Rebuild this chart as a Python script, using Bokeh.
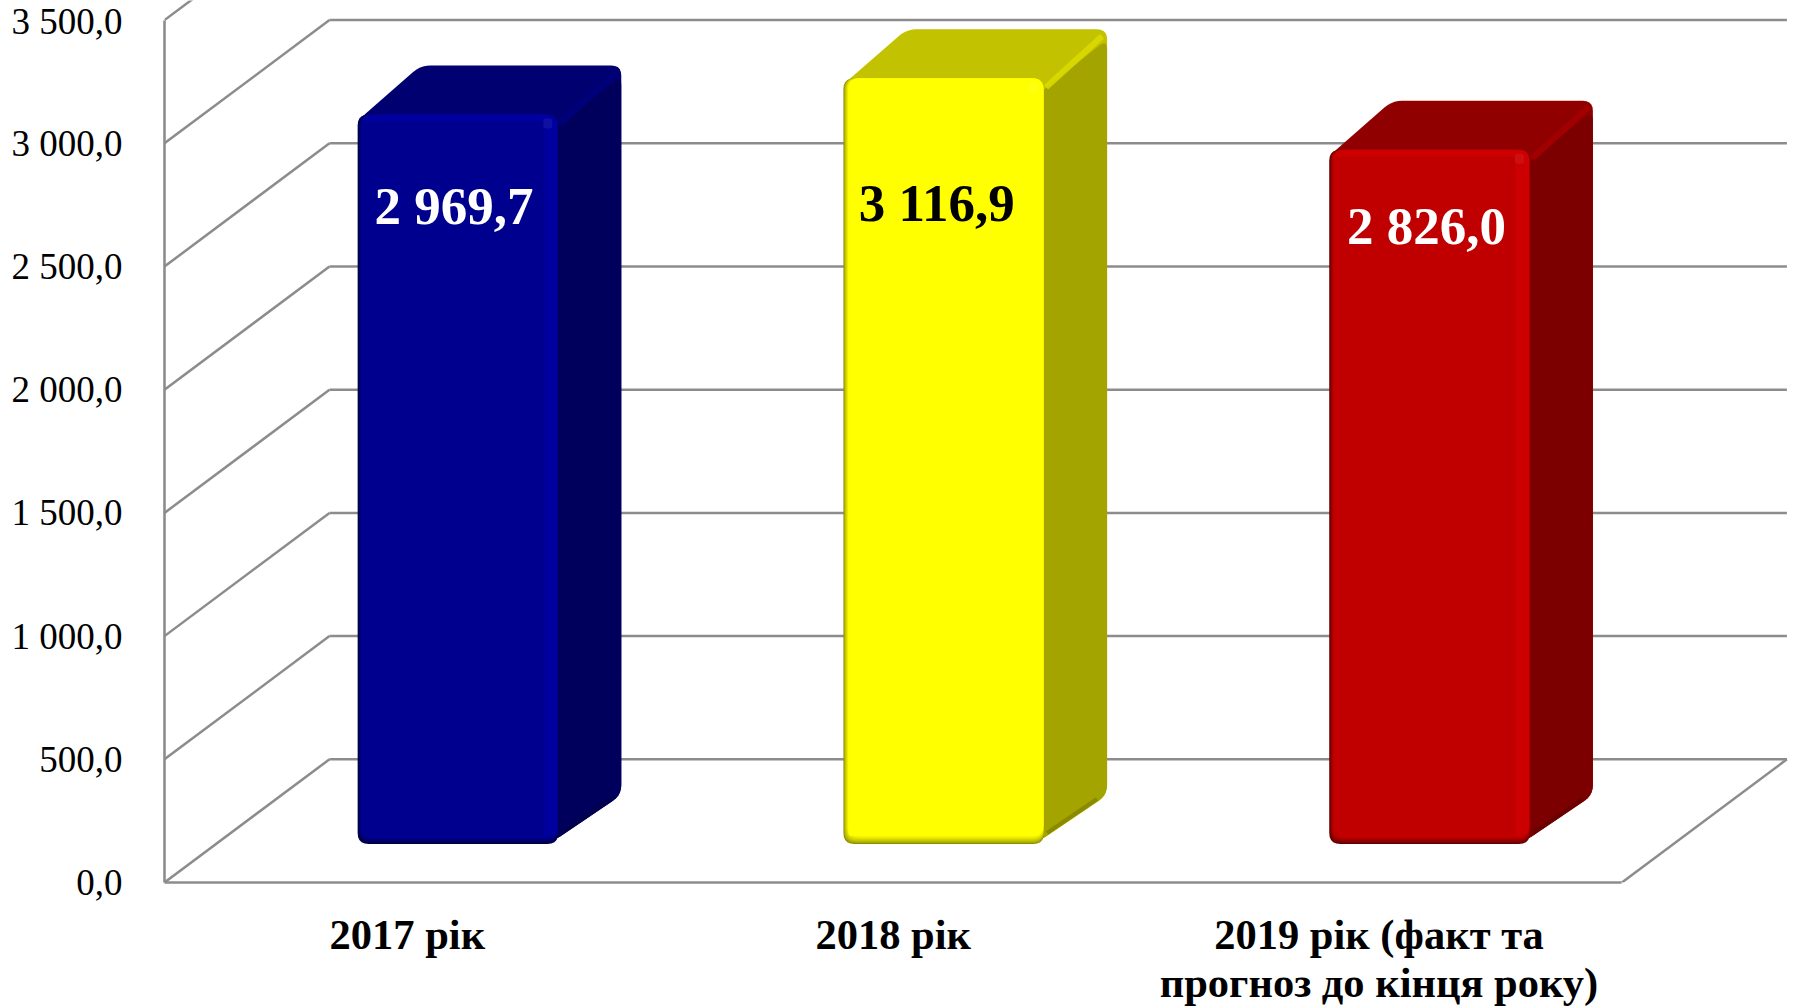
from bokeh.embed import file_html
from bokeh.models import ColumnDataSource, FixedTicker, Range1d
from bokeh.plotting import figure
from bokeh.resources import INLINE
from bokeh.core.properties import value

categories = ["2017 рік", "2018 рік", "2019 рік (факт та\nпрогноз до кінця року)"]
values = [2969.7, 3116.9, 2826.0]
value_labels = ["2 969,7", "3 116,9", "2 826,0"]
y_ticks = [0, 500, 1000, 1500, 2000, 2500, 3000, 3500]
y_tick_labels = ["0,0", "500,0", "1 000,0", "1 500,0", "2 000,0", "2 500,0", "3 000,0", "3 500,0"]

front_colors = ["#00008E", "#FFFF00", "#C00000"]
top_colors = ["#000070", "#C2C200", "#900000"]
side_colors = ["#00005C", "#A4A400", "#7C0000"]
label_colors = ["white", "black", "white"]
edge_colors = ["#00003C", "#8C8C00", "#5E0000"]
light_colors = ["#00009E", "#FFFF00", "#CC0000"]

# layout of the pseudo-3D box (pixels per data unit, and depth fractions)
W, H = 1794, 1008
LEFT, BOTTOM = 164, 126
UX = 485.8
UY = 0.2464
DEPTH_X = 165 / UX
DEPTH_Y = 500.0
BAR_W = 0.413
BAR_SHIFT = -1 / UX
D_FRONT = 0.3125
D_BACK = 0.71
BAR_DX = 63 / UX
H_SCALE = 0.997
GRID = "#8C8C8C"
# value-label anchors, as offsets in px from the top of the bar front
LABEL_DY = [92, 125, 76]
LABEL_DX = [-4, -7, -3]

FW, FH = W - LEFT, H - BOTTOM
p = figure(width=W, height=H, output_backend="svg", toolbar_location=None,
           x_range=Range1d(0, FW / UX), y_range=Range1d(0, FH / UY),
           min_border_left=LEFT, min_border_bottom=BOTTOM, min_border_top=0, min_border_right=0,
           frame_width=FW, frame_height=FH,
           background_fill_color="white", border_fill_color="white", outline_line_color=None)
p.margin = (0, 0, 0, 0)
p.grid.visible = False

# axes
ya = p.yaxis[0]
ya.ticker = FixedTicker(ticks=y_ticks)
ya.major_label_overrides = {t: s for t, s in zip(y_ticks, y_tick_labels)}
ya.bounds = (0, 3500)
xa = p.xaxis[0]
xa.ticker = FixedTicker(ticks=[i + 0.5 for i in range(len(categories))])
xa.major_label_overrides = {i + 0.5: c for i, c in enumerate(categories)}
xa.bounds = (0, len(categories))
for a in (xa, ya):
    a.axis_line_color = GRID
    a.axis_line_width = 2.6
    a.major_tick_line_color = None
    a.minor_tick_line_color = None
    a.major_label_text_font = "Liberation Serif"
    a.major_label_text_color = "black"
ya.major_label_text_font_size = "37px"
ya.major_label_standoff = 36
xa.major_label_text_font_size = "42.5px"
xa.major_label_text_font_style = "bold"
xa.major_label_standoff = 22
xa.major_label_text_line_height = 1.04
xa.major_label_orientation = "horizontal"
ya.major_label_orientation = "horizontal"

# walls and floor
N = len(categories)
xs, ys = [], []
for t in y_ticks:
    xs.append([0, DEPTH_X]); ys.append([t, t + DEPTH_Y])
    if t < 3500:
        xs.append([DEPTH_X, N + DEPTH_X]); ys.append([t + DEPTH_Y, t + DEPTH_Y])
xs.append([N, N + DEPTH_X]); ys.append([0, DEPTH_Y])
p.multi_line(xs, ys, line_color=GRID, line_width=2.5)


def rounded(points, r, n=5):
    """Round a polygon's corners; points are data, radius is px."""
    pts = [(x * UX, y * UY) for x, y in points]
    out = []
    m = len(pts)
    for i in range(m):
        px, py = pts[i - 1]
        cx, cy = pts[i]
        nx, ny = pts[(i + 1) % m]
        d1 = ((px - cx) ** 2 + (py - cy) ** 2) ** .5
        d2 = ((nx - cx) ** 2 + (ny - cy) ** 2) ** .5
        a = (cx + (px - cx) * min(r / d1, .5), cy + (py - cy) * min(r / d1, .5))
        b = (cx + (nx - cx) * min(r / d2, .5), cy + (ny - cy) * min(r / d2, .5))
        for k in range(n + 1):
            t = k / n
            out.append(((1 - t) ** 2 * a[0] + 2 * t * (1 - t) * cx + t * t * b[0],
                        (1 - t) ** 2 * a[1] + 2 * t * (1 - t) * cy + t * t * b[1]))
    return [x / UX for x, _ in out], [y / UY for _, y in out]


def mix(c1, c2, t):
    a = [int(c1[i:i + 2], 16) for i in (1, 3, 5)]
    b = [int(c2[i:i + 2], 16) for i in (1, 3, 5)]
    return "#%02X%02X%02X" % tuple(round(u + (v - u) * t) for u, v in zip(a, b))


def patch(points, color, r=8, alpha=1.0):
    x, y = rounded(points, r)
    p.patch(x, y, fill_color=color, fill_alpha=alpha, line_color=None)


px, py = 1 / UX, 1 / UY
dx = BAR_DX
dy = (D_BACK - D_FRONT) * DEPTH_Y
dx_px, dy_px = dx * UX, dy * UY
lx, ly, lt, lc = [], [], [], []
for i, v in enumerate(values):
    x0 = i + (1 - BAR_W) / 2 + D_FRONT * DEPTH_X + BAR_SHIFT
    x1 = x0 + BAR_W
    y0 = D_FRONT * DEPTH_Y
    y1 = y0 + v * H_SCALE
    # outline of top and side in the top colour, side face laid over it
    patch([(x0, y1 - 6 * py), (x1 - 6 * px, y0 + 2 * py), (x1 + dx, y0 + dy), (x1 + dx, y1 + dy), (x0 + dx, y1 + dy)],
          top_colors[i], 10)
    patch([(x1 - 6 * px, y0 + 2 * py), (x1 + dx, y0 + dy), (x1 + dx, y1 + dy - 10 * py), (x1 - 6 * px, y1 - 16 * py)],
          side_colors[i], 10)

    def rim(s):
        return y0 + (2 + (s + 6) / (dx_px + 6) * (dy_px - 2) + 3) * py

    # shaded lower rim of the side face
    p.line([x1 + 3 * px, x1 + dx - 10 * px], [rim(3), rim(dx_px - 10)],
           line_color=mix(side_colors[i], "#000000", .35), line_width=4, line_alpha=.45)
    # light ridge between top and side
    ridge = mix(top_colors[i], front_colors[i], .45)
    p.line([x1 + 2 * px, x1 + dx - 5 * px], [y1 - 9 * py, y1 + dy - 7 * py],
           line_color=ridge, line_width=6, line_alpha=.8)
    # front face, dark at the rim then fading to the body colour
    steps = 8
    for k in range(steps):
        t = (k / (steps - 1)) ** .7
        patch([(x0 + k * .7 * px, y0 + k * 1.1 * py), (x1 - k * .1 * px, y0 + k * 1.1 * py),
               (x1 - k * .1 * px, y1), (x0 + k * .7 * px, y1)],
              mix(edge_colors[i], light_colors[i], t), 11)
    patch([(x0 + 5 * px, y0 + 8 * py), (x1 - 14 * px, y0 + 8 * py),
           (x1 - 14 * px, y1 - 7 * py), (x0 + 5 * px, y1 - 7 * py)], front_colors[i], 3)
    # small glint at the top right corner of the front
    patch([(x1 - 15 * px, y1 - 14 * py), (x1 - 6 * px, y1 - 14 * py),
           (x1 - 6 * px, y1 - 4 * py), (x1 - 15 * px, y1 - 4 * py)],
          mix(light_colors[i], "#FFFFFF", .2), 3, .3)
    lx.append((x0 + x1) / 2 + LABEL_DX[i] * px)
    ly.append(y1 - LABEL_DY[i] * py)
    lt.append(value_labels[i])
    lc.append(label_colors[i])

src = ColumnDataSource(dict(x=lx, y=ly, text=lt, color=lc))
p.text("x", "y", text="text", source=src, text_color="color", text_font=value("Liberation Serif"),
       text_font_style="bold", text_font_size="53px", text_align="center", text_baseline="middle")

open("out.html", "w").write(file_html(p, INLINE))
